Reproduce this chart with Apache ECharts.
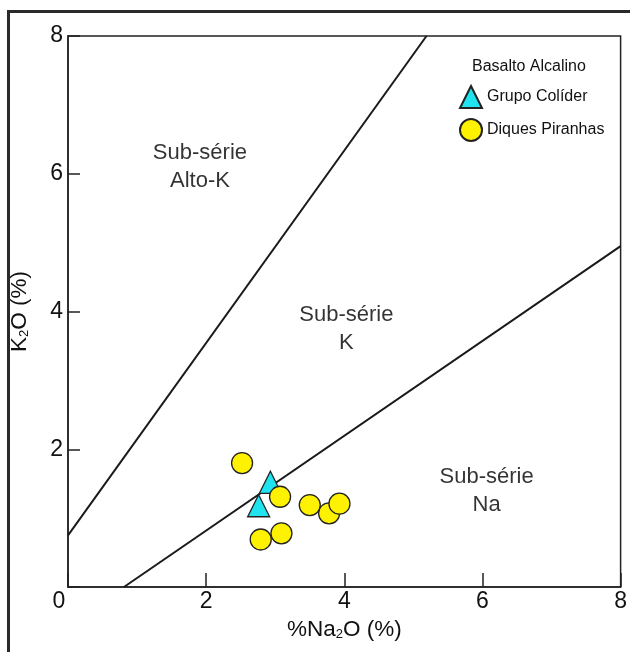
<!DOCTYPE html>
<html>
<head>
<meta charset="utf-8">
<script src="https://cdn.jsdelivr.net/npm/echarts@6/dist/echarts.min.js"></script>
<style>
  html, body { margin: 0; padding: 0; background: #fff; }
  #chart { width: 630px; height: 652px; }
</style>
</head>
<body>
<div id="chart"></div>
<script>
// Axis ticks
const xTicks = [0, 2, 4, 6, 8];
const yTicks = [0, 2, 4, 6, 8];

// Basalto Alcalino samples: [Na2O, K2O]
const grupoColider = [[2.93, 1.52], [2.76, 1.18]];
const diquesPiranhas = [
  [2.52, 1.80], [2.79, 0.69], [3.09, 0.78], [3.07, 1.31],
  [3.50, 1.19], [3.78, 1.07], [3.93, 1.21]
];

// Field boundaries (end points of each dividing line)
const altoKBoundary = [[0, 0.75], [5.19, 8]];
const naBoundary = [[0.81, 0], [8, 4.95]];

// Field names and their anchor positions
const fieldNames = ['Sub-série\nAlto-K', 'Sub-série\nK', 'Sub-série\nNa'];
const fieldAnchors = [[1.91, 6.10], [4.03, 3.75], [6.06, 1.39]];

const FONT = '"Liberation Sans", Arial, sans-serif';
const INK = '#1a1a1a';

const chart = echarts.init(document.getElementById('chart'), null, { renderer: 'canvas' });

const lineSeries = (data) => ({
  type: 'line',
  data: data,
  symbol: 'none',
  silent: true,
  lineStyle: { color: INK, width: 2 },
  z: 2
});

const nameRich = {
  a: { fontSize: 22.5, fontFamily: FONT, color: '#111' },
  s: { fontSize: 13, fontFamily: FONT, color: '#111', padding: [10, 0, 0, 0] }
};

chart.setOption({
  animation: false,
  backgroundColor: '#fff',
  textStyle: { fontFamily: FONT },
  grid: {
    left: 68, right: 8, top: 36, bottom: 65,
    show: true, borderColor: '#222', borderWidth: 1.5,
    containLabel: false
  },
  xAxis: {
    type: 'value',
    min: xTicks[0], max: xTicks[xTicks.length - 1], interval: 2,
    splitLine: { show: false },
    axisLine: { show: true, lineStyle: { color: '#222', width: 1.5 } },
    axisTick: { show: true, inside: true, length: 14, lineStyle: { color: '#222', width: 1.5 } },
    axisLabel: {
      margin: 3, color: '#111', fontSize: 23, fontFamily: FONT,
      formatter: (v) => v === 0 ? '{z|0}' : String(v),
      rich: { z: { fontSize: 23, fontFamily: FONT, color: '#111', padding: [0, 18, 0, 0] } }
    },
    name: '{a|%Na}{s|2}{a|O (%)}',
    nameLocation: 'middle',
    nameGap: 27,
    nameTextStyle: { fontSize: 22.5, color: '#111', rich: nameRich }
  },
  yAxis: {
    type: 'value',
    min: yTicks[0], max: yTicks[yTicks.length - 1], interval: 2,
    splitLine: { show: false },
    axisLine: { show: true, lineStyle: { color: '#222', width: 1.5 } },
    axisTick: { show: true, inside: true, length: 12, lineStyle: { color: '#222', width: 1.5 } },
    axisLabel: {
      margin: 5, color: '#111', fontSize: 23, fontFamily: FONT,
      formatter: (v) => v === 0 ? '' : String(v)
    },
    name: '{a|K}{s|2}{a|O (%)}',
    nameLocation: 'middle',
    nameGap: 37,
    nameRotate: 90,
    nameTextStyle: { fontSize: 22.5, color: '#111', rich: nameRich }
  },
  legend: {
    orient: 'vertical',
    left: 454, top: 80,
    itemWidth: 22, itemHeight: 22, itemGap: 9,
    textStyle: { fontSize: 16, fontFamily: FONT, color: '#111' },
    data: ['Grupo Colíder', 'Diques Piranhas']
  },
  graphic: [
    {
      type: 'rect', silent: true,
      shape: { x: 8.5, y: 11.5, width: 650, height: 680 },
      style: { fill: 'none', stroke: '#2a2a2a', lineWidth: 3 }
    },
    {
      type: 'text', silent: true, left: 472, top: 59,
      style: { text: 'Basalto Alcalino', fontSize: 16, fontFamily: FONT, fill: '#111' }
    }
  ],
  series: [
    lineSeries(altoKBoundary),
    lineSeries(naBoundary),
    {
      type: 'scatter',
      name: 'fields',
      silent: true,
      symbolSize: 0,
      data: fieldAnchors.map((p, i) => ({ value: p, label: { formatter: fieldNames[i] } })),
      label: {
        show: true, position: 'inside',
        fontSize: 22, fontFamily: FONT, color: '#000',
        textBorderWidth: 0,
        lineHeight: 28, align: 'center'
      },
      z: 1
    },
    {
      type: 'scatter',
      name: 'Grupo Colíder',
      symbol: 'triangle',
      symbolSize: [22, 22],
      data: grupoColider,
      itemStyle: { color: '#1fe3ee', borderColor: '#222', borderWidth: 1.3, opacity: 1 },
      z: 3
    },
    {
      type: 'scatter',
      name: 'Diques Piranhas',
      symbol: 'circle',
      symbolSize: 21,
      data: diquesPiranhas,
      itemStyle: { color: '#fff200', borderColor: '#222', borderWidth: 1.3, opacity: 1 },
      z: 4
    }
  ]
});
</script>
</body>
</html>
